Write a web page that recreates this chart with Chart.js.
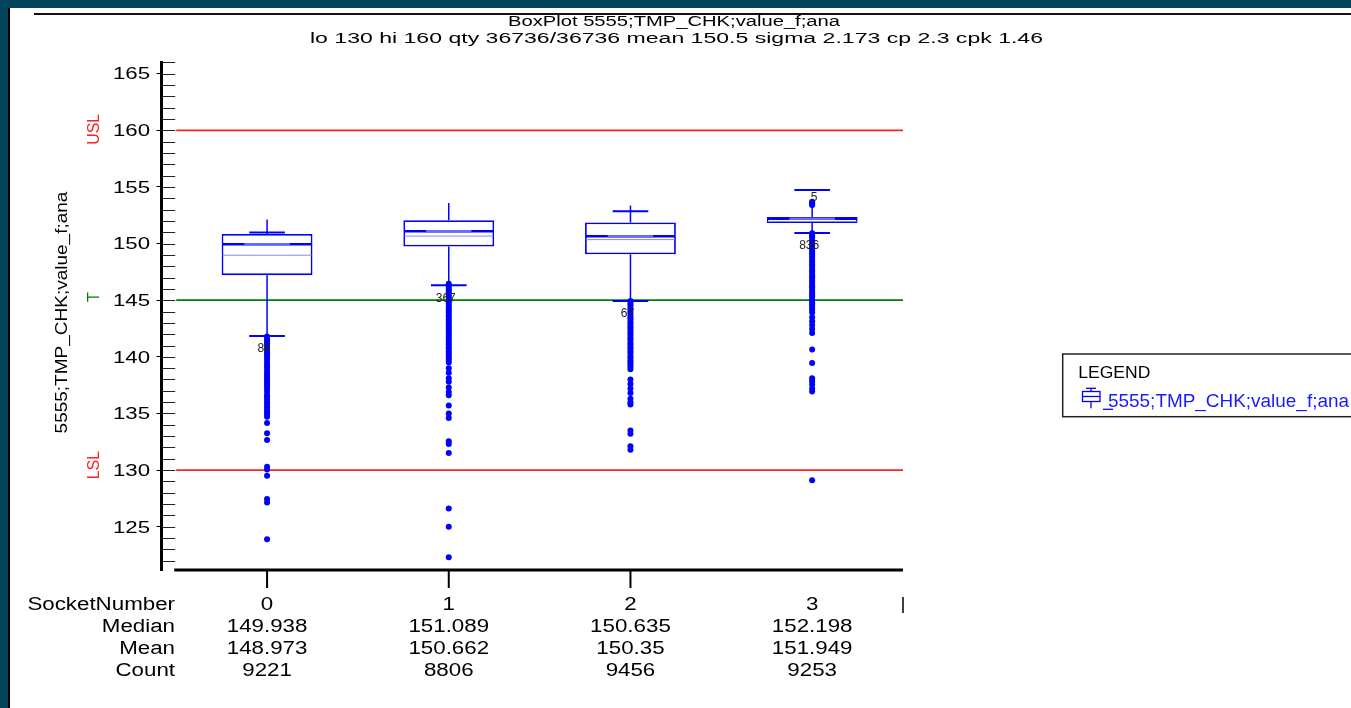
<!DOCTYPE html>
<html>
<head>
<meta charset="utf-8">
<title>BoxPlot 5555;TMP_CHK;value_f;ana</title>
<script src="https://cdn.jsdelivr.net/npm/chart.js@4.4.1/dist/chart.umd.min.js"></script>
<style>
  html, body { margin: 0; padding: 0; background: #03445c; overflow: hidden; }
  #frame { position: absolute; left: 8px; top: 8px; right: 0; bottom: 0; background: #fff; border-left: 2px solid #000; }
  #box { position: absolute; left: 0; top: 0; }
</style>
</head>
<body>
<div id="frame"></div>
<canvas id="box" width="1351" height="708" style="width:1351px;height:708px"></canvas>
<script>
// Box plot per socket
const categories = ['0', '1', '2', '3'];
const q1 = [147.21, 149.74, 149.06, 151.82];
const q3 = [150.85, 152.06, 151.86, 152.35];
const medians = [149.938, 151.089, 150.635, 152.198];
const means = [148.973, 150.662, 150.35, 151.949];
const counts = [9221, 8806, 9456, 9253];
const whiskerHigh = [152.12, 153.59, 153.36, 153.55];
const capHigh = [150.97, null, 152.85, 154.73];
const capLow = [141.85, 146.32, 144.94, 150.94];
const lowOutlierCounts = [86, 367, 67, 836];
const highOutlierCounts = [null, null, null, 5];

const outliers0 = [141.8, 141.6, 141.4, 141.2, 141.0, 140.8, 140.6, 140.4, 140.2, 140.0, 139.8, 139.55,
  139.3, 139.1, 138.85, 138.6, 138.4, 138.2, 138.0, 137.8, 137.6, 137.4, 137.15, 136.9, 136.6, 136.45,
  136.2, 136.0, 135.75, 135.55, 135.3, 135.1, 134.9, 134.7, 134.15, 133.25, 132.65, 130.3, 130.05,
  129.5, 127.45, 127.15, 123.9];
const outliers1 = [146.45, 146.28, 146.07, 145.88, 145.7, 145.49, 145.31, 145.1, 144.92, 144.73, 144.51,
  144.3, 144.12, 143.91, 143.7, 143.52, 143.3, 143.12, 142.93, 142.71, 142.5, 142.33, 142.1, 141.92,
  141.71, 141.5, 141.33, 141.12, 140.9, 140.73, 140.5, 140.31, 140.12, 139.9, 139.71, 139.5, 139.0,
  138.6, 138.1, 137.8, 137.3, 136.9, 136.6, 135.7, 135.0, 134.6, 132.55, 132.3, 131.5, 126.6, 125.0, 122.3];
const outliers2 = [144.92, 144.71, 144.53, 144.3, 144.12, 143.91, 143.72, 143.5, 143.31, 143.1, 142.93,
  142.7, 142.52, 142.3, 142.11, 141.92, 141.7, 141.52, 141.31, 141.12, 140.9, 140.72, 140.5, 140.33,
  140.1, 139.91, 139.7, 139.52, 139.3, 139.12, 138.9, 138.0, 137.6, 137.2, 136.8, 136.3, 136.0, 135.8,
  133.5, 133.2, 132.1, 131.8];
const outliers3 = [153.7, 153.6, 153.5, 153.45, 153.4,
  150.92, 150.74, 150.55, 150.31, 150.12, 149.93, 149.71, 149.52, 149.36, 149.14, 148.92, 148.75,
  148.51, 148.33, 148.12, 147.95, 147.71, 147.54, 147.33, 147.11, 146.94, 146.72, 146.53, 146.31,
  146.15, 145.92, 145.7, 145.52, 145.34, 145.11, 144.93, 144.72, 144.55, 144.32, 144.13, 143.92,
  143.5, 143.15, 142.8, 142.45, 142.1, 140.65, 139.45, 138.1, 137.85, 137.55, 137.2, 136.95, 129.1];
const outliers = [outliers0, outliers1, outliers2, outliers3];

const yTicks = [125, 130, 135, 140, 145, 150, 155, 160, 165];
const lsl = 130, target = 145, usl = 160;
const yMin = 121.18, yMax = 166.03;

const seriesName = '5555;TMP_CHK;value_f;ana';
const titleLines = ['BoxPlot 5555;TMP_CHK;value_f;ana',
  'lo 130 hi 160 qty 36736/36736 mean 150.5 sigma 2.173 cp 2.3 cpk 1.46'];
const rowNames = ['SocketNumber', 'Median', 'Mean', 'Count'];

const FONT = '"Liberation Sans", Arial, Helvetica, sans-serif';
const BLUE = '#0000ff';

const boxData = categories.map((c, i) => ({x: i, y: [q1[i], q3[i]]}));
const outlierData = [];
outliers.forEach((list, i) => list.forEach(v => outlierData.push({x: i, y: v})));

function drawText(ctx, str, x, y, o) {
  ctx.save();
  ctx.translate(x, y);
  if (o.rotate) ctx.rotate(-Math.PI / 2);
  ctx.font = o.size + 'px ' + FONT;
  ctx.fillStyle = o.color || '#000';
  ctx.textBaseline = 'alphabetic';
  ctx.textAlign = o.align || 'center';
  let sx = o.stretch || 1;
  if (o.width) sx = o.width / ctx.measureText(str).width;
  ctx.scale(sx, o.thick || 1);
  ctx.fillText(str, 0, 0);
  ctx.restore();
}

function seg(ctx, x1, y1, x2, y2, color, w) {
  ctx.beginPath();
  ctx.strokeStyle = color;
  ctx.lineWidth = w;
  ctx.moveTo(x1, y1);
  ctx.lineTo(x2, y2);
  ctx.stroke();
}

const boxPlot = {
  id: 'boxPlot',
  beforeDatasetsDraw(chart) {
    const {ctx, scales: {x, y}} = chart;
    const left = x.getPixelForValue(-0.5), right = x.getPixelForValue(x.max);
    ctx.save();
    // spec limits
    seg(ctx, left, y.getPixelForValue(usl), right, y.getPixelForValue(usl), '#ff2020', 1.8);
    seg(ctx, left, y.getPixelForValue(lsl), right, y.getPixelForValue(lsl), '#ff2020', 1.8);
    seg(ctx, left, y.getPixelForValue(target), right, y.getPixelForValue(target), '#008000', 1.8);
    // whiskers and caps
    categories.forEach((c, i) => {
      const cx = x.getPixelForValue(i);
      const half = x.getPixelForValue(i + 0.098) - cx;
      seg(ctx, cx, y.getPixelForValue(q3[i]), cx, y.getPixelForValue(whiskerHigh[i]), BLUE, 1.5);
      seg(ctx, cx, y.getPixelForValue(q1[i]), cx, y.getPixelForValue(capLow[i]), BLUE, 1.5);
      if (capHigh[i] !== null) {
        const py = y.getPixelForValue(capHigh[i]);
        seg(ctx, cx - half, py, cx + half, py, BLUE, 2);
      }
      const pl = y.getPixelForValue(capLow[i]);
      seg(ctx, cx - half, pl, cx + half, pl, BLUE, 2);
    });
    ctx.restore();
  },
  afterDatasetsDraw(chart) {
    const {ctx, scales: {x, y}} = chart;
    const bars = chart.getDatasetMeta(0).data;
    ctx.save();
    bars.forEach((bar, i) => {
      const l = bar.x - bar.width / 2, r = bar.x + bar.width / 2;
      const pm = y.getPixelForValue(medians[i]);
      seg(ctx, l + 1, pm, r - 1, pm, BLUE, 2.5);
      seg(ctx, l + bar.width * 0.25, pm, r - bar.width * 0.25, pm, 'rgb(105,105,255)', 2.5);
      const pa = y.getPixelForValue(means[i]);
      seg(ctx, l + 1, pa, r - 1, pa, 'rgb(135,135,255)', 1);
      const cx = x.getPixelForValue(i);
      drawText(ctx, String(lowOutlierCounts[i]), cx - 3, y.getPixelForValue(capLow[i]) + 16.5,
        {size: 12, color: '#222'});
      if (highOutlierCounts[i] !== null) {
        drawText(ctx, String(highOutlierCounts[i]), cx + 2, y.getPixelForValue(capHigh[i]) + 11,
          {size: 12, color: '#222'});
      }
    });
    ctx.restore();
  },
  afterDraw(chart) {
    const {ctx, chartArea: a, scales: {x, y}} = chart;
    ctx.save();
    // frame line and title
    seg(ctx, 34, 14, 1351, 14, '#111', 2);
    drawText(ctx, titleLines[0], 674, 26, {size: 14, width: 332});
    drawText(ctx, titleLines[1], 676.5, 42.5, {size: 14, width: 733});

    // y axis labels and minor ticks
    yTicks.forEach(v => {
      drawText(ctx, String(v), 150, y.getPixelForValue(v) + 5.8, {size: 16, align: 'right', stretch: 1.39});
    });
    for (let v = Math.ceil(yMin); v <= Math.floor(yMax); v++) {
      const py = Math.round(y.getPixelForValue(v)) + 0.5;
      seg(ctx, a.left + 1.5, py, x.getPixelForValue(-0.5) - 1, py, '#222', 1);
    }
    drawText(ctx, seriesName, 67, 312.5, {size: 19, rotate: true, thick: 0.85});
    drawText(ctx, 'USL', 99, y.getPixelForValue(usl) - 1, {size: 16, rotate: true, color: '#ff2020'});
    drawText(ctx, 'T', 99, y.getPixelForValue(target) - 3, {size: 16, rotate: true, color: '#008000'});
    drawText(ctx, 'LSL', 99, y.getPixelForValue(lsl) - 5, {size: 16, rotate: true, color: '#ff2020'});

    // x axis
    const xb = y.getPixelForValue(yMin);
    seg(ctx, x.getPixelForValue(-0.5) - 2, xb, x.getPixelForValue(x.max), xb, '#000', 3);
    categories.forEach((c, i) => {
      if (i < categories.length - 1) {
        const px = x.getPixelForValue(i);
        seg(ctx, px, xb, px, xb + 18, '#000', 2);
      }
    });
    seg(ctx, x.getPixelForValue(x.max), 597, x.getPixelForValue(x.max), 613, '#000', 1.5);

    // table under the axis
    const rows = [categories, medians.map(String), means.map(String), counts.map(String)];
    const baselines = [610, 632, 654, 676];
    rows.forEach((vals, r) => {
      drawText(ctx, rowNames[r], 175, baselines[r], {size: 18, align: 'right', stretch: 1.24});
      vals.forEach((s, i) => {
        drawText(ctx, s, x.getPixelForValue(i), baselines[r], {size: 18, stretch: 1.24});
      });
    });

    // legend
    ctx.strokeStyle = '#222';
    ctx.lineWidth = 1.5;
    ctx.strokeRect(1062.7, 354, 320, 62.7);
    drawText(ctx, 'LEGEND', 1078.3, 378.3, {size: 16, align: 'left', stretch: 1.095});
    ctx.strokeStyle = BLUE;
    ctx.lineWidth = 1.3;
    ctx.strokeRect(1082.5, 391.5, 17.5, 10);
    seg(ctx, 1082.5, 396.5, 1100, 396.5, BLUE, 1.3);
    seg(ctx, 1091, 388.3, 1091, 391.5, BLUE, 1.3);
    seg(ctx, 1091, 401.5, 1091, 408.3, BLUE, 1.3);
    seg(ctx, 1086, 388.3, 1096, 388.3, BLUE, 1.3);
    seg(ctx, 1103, 409.3, 1113, 409.3, BLUE, 1.3);
    drawText(ctx, seriesName, 1108, 406.7, {size: 18, align: 'left', width: 241, color: '#1a1aff'});
    ctx.restore();
  }
};

new Chart(document.getElementById('box'), {
  type: 'bar',
  data: {
    datasets: [
      {
        type: 'bar',
        label: seriesName,
        data: boxData,
        backgroundColor: '#ffffff',
        borderColor: BLUE,
        borderWidth: 1.8,
        borderSkipped: false,
        barPercentage: 0.5,
        categoryPercentage: 1
      },
      {
        type: 'line',
        label: 'outliers',
        data: outlierData,
        showLine: false,
        pointRadius: 3,
        pointHoverRadius: 3,
        pointBackgroundColor: BLUE,
        pointBorderWidth: 0
      }
    ]
  },
  options: {
    responsive: false,
    animation: false,
    devicePixelRatio: 1,
    events: [],
    layout: { padding: { left: 0, top: 62, right: 1351 - 903, bottom: 708 - 570 } },
    plugins: {
      legend: { display: false },
      title: { display: false },
      tooltip: { enabled: false }
    },
    scales: {
      x: {
        type: 'linear',
        display: false,
        offset: false,
        min: -0.581,
        max: 3.5,
        afterBuildTicks(s) { s.ticks = categories.map((c, i) => ({value: i})); }
      },
      y: {
        type: 'linear',
        min: yMin,
        max: yMax,
        afterBuildTicks(s) { s.ticks = yTicks.map(v => ({value: v})); },
        afterFit(s) { s.width = 161.5; },
        ticks: { display: false },
        grid: { drawOnChartArea: false, drawTicks: true, tickLength: 5, color: '#000', lineWidth: 1 },
        border: { display: true, color: '#000', width: 3 }
      }
    }
  },
  plugins: [boxPlot]
});
</script>
</body>
</html>
